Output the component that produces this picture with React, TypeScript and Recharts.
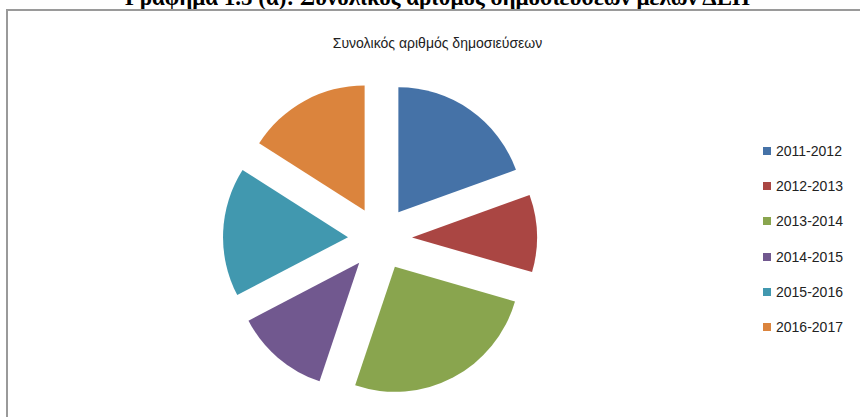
import React from "react";
import { PieChart, Pie, Cell, Legend } from "recharts";

const periods = ["2011-2012", "2012-2013", "2013-2014", "2014-2015", "2015-2016", "2016-2017"];
const publications = [195, 100, 257, 122, 167, 160];
const colors = ["#4572A7", "#AA4643", "#89A54E", "#71588F", "#4198AF", "#DB843D"];

const data = periods.map((name, i) => ({ name, value: publications[i] }));

const CX = 380;
const CY = 238.5;
const RADIUS = 125;
const EXPLODE = 32;

// μέση γωνία κάθε φέτας (από το πάνω μέρος, δεξιόστροφα)
const total = publications.reduce((s, v) => s + v, 0);
let acc = 0;
const midAngles = publications.map((v) => {
  const mid = ((acc + v / 2) / total) * 360;
  acc += v;
  return mid;
});

function LegendList() {
  return (
    <ul style={{ listStyle: "none", margin: 0, padding: 0 }}>
      {periods.map((p, i) => (
        <li
          key={p}
          style={{
            display: "flex",
            alignItems: "center",
            height: 35.3,
            fontFamily: "'Liberation Sans', Arial, sans-serif",
            fontSize: 14,
            color: "#222",
          }}
        >
          <span
            style={{
              display: "inline-block",
              width: 8,
              height: 8,
              background: colors[i],
              marginRight: 5,
            }}
          />
          {p}
        </li>
      ))}
    </ul>
  );
}

export default function App() {
  return (
    <div
      style={{
        position: "absolute",
        left: 0,
        top: 0,
        width: 860,
        height: 417,
        overflow: "hidden",
        background: "#fff",
      }}
    >
      <div
        style={{
          position: "absolute",
          left: 0,
          width: 875,
          top: -14,
          textAlign: "center",
          fontFamily: "'Liberation Serif', 'Times New Roman', serif",
          fontWeight: "bold",
          fontSize: 23,
          lineHeight: "24px",
          color: "#000",
          whiteSpace: "nowrap",
        }}
      >
        Γράφημα 1.5 (α): Συνολικός αριθμός δημοσιεύσεων μελών ΔΕΠ
      </div>
      <div
        style={{
          position: "absolute",
          left: 6,
          top: 9,
          width: 900,
          height: 500,
          border: "2px solid #9a9a9a",
        }}
      />
      <div
        style={{
          position: "absolute",
          left: 0,
          width: 875,
          top: 34,
          textAlign: "center",
          fontFamily: "'Liberation Sans', Arial, sans-serif",
          fontSize: 14,
          lineHeight: "18px",
          color: "#222",
        }}
      >
        Συνολικός αριθμός δημοσιεύσεων
      </div>
      <div style={{ position: "absolute", left: 0, top: 0 }}>
        <PieChart width={860} height={417} margin={{ top: 0, right: 0, bottom: 0, left: 0 }}>
          {midAngles.map((mid, k) => (
            <Pie
              key={periods[k]}
              data={data}
              dataKey="value"
              nameKey="name"
              cx={CX + EXPLODE * Math.sin((mid * Math.PI) / 180)}
              cy={CY - EXPLODE * Math.cos((mid * Math.PI) / 180)}
              outerRadius={RADIUS}
              startAngle={90}
              endAngle={-270}
              stroke="none"
              isAnimationActive={false}
            >
              {data.map((d, i) => (
                <Cell key={d.name} fill={i === k ? colors[i] : "transparent"} stroke="none" />
              ))}
            </Pie>
          ))}
          <Legend
            content={() => <LegendList />}
            wrapperStyle={{ left: 763, top: 133, width: 95, right: "auto", bottom: "auto" }}
          />
        </PieChart>
      </div>
    </div>
  );
}
